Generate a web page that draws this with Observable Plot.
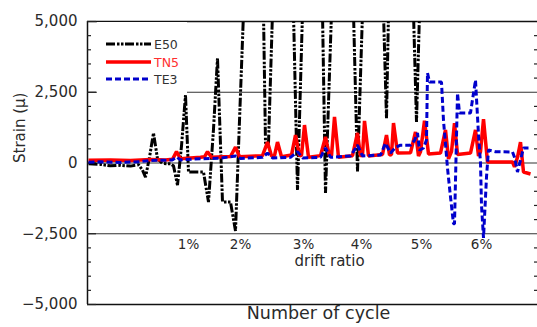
<!DOCTYPE html>
<html>
<head>
<meta charset="utf-8">
<script src="https://cdn.jsdelivr.net/npm/d3@7"></script>
<script src="https://cdn.jsdelivr.net/npm/@observablehq/plot@0.6"></script>
<style>
  html, body { margin: 0; padding: 0; background: #fff; }
  #wrap { position: relative; width: 537px; height: 327px; font-family: "DejaVu Sans", sans-serif; }
  #legend { position: absolute; left: 97px; top: 22px; width: 90px; height: 71px; background: #fff; }
  #legend .row { position: absolute; left: 9px; height: 14px; display: flex; align-items: center; }
  #legend .lab { font-size: 12.5px; margin-left: 3px; color: #333; }
</style>
</head>
<body>
<div id="wrap"></div>
<script>
// ---- data (x = cycle index, y = strain in micro-strain) ----
const seriesNames = ["E50", "TN5", "TE3"];
const seriesColors = ["#000000", "#ff0000", "#0000cc"];
const seriesDash = ["9,2,2.5,1.5,2.5,1.5", null, "6,3"];
const seriesWidths = [3, 3.5, 3];

const e50X = [1, 13, 23, 33, 43, 51, 55, 58, 62, 66, 70, 75, 83, 86, 90, 94, 98, 101, 116, 121, 126, 130, 135, 143, 148, 152, 156, 166, 176, 178, 181, 185, 195, 206, 210, 215, 225, 235, 238, 244, 255, 266, 270, 275, 285, 296, 299, 301, 313, 326, 329, 332];
const e50Y = [-30, -50, -100, -80, -110, -60, -250, -500, 200, 1060, 150, -20, -30, -100, -780, 600, 2400, -320, -320, -1380, 1200, 3700, -1380, -1380, -2400, 1500, 5300, 9000, 5300, 700, 700, 5300, 9000, 5300, -950, 5300, 9000, 5300, -1060, 5300, 9000, 5300, -300, 5300, 9000, 5300, 1580, 5300, 9000, 5300, 1450, 5300];

const tn5X = [1, 23, 43, 63, 78, 85, 89, 93, 113, 117, 120, 124, 143, 148, 152, 175, 180, 184, 187, 190, 194, 204, 208, 212, 214, 217, 221, 233, 238, 242, 244, 247, 251, 265, 270, 273, 275, 277, 281, 295, 299, 302, 304, 306, 310, 323, 328, 331, 333, 337, 341, 353, 358, 361, 364, 367, 370, 383, 388, 391, 393, 396, 400, 425, 427, 430, 433, 436, 443];
const tn5Y = [100, 110, 90, 120, 110, 130, 400, 150, 200, 220, 400, 200, 230, 560, 220, 260, 740, 250, 260, 740, 220, 280, 990, 250, 270, 1340, 200, 260, 920, 240, 250, 1630, 200, 260, 1060, 250, 270, 1490, 250, 300, 990, 280, 300, 1410, 350, 360, 1100, 250, 400, 1490, 320, 350, 1170, 150, 400, 1410, 300, 350, 1170, 250, 400, 1550, 35, 35, -140, 200, 740, -320, -390];

const te3X = [1, 13, 33, 53, 63, 78, 85, 89, 93, 113, 133, 148, 153, 175, 180, 185, 203, 210, 215, 233, 238, 243, 263, 270, 275, 293, 298, 303, 308, 313, 323, 327, 330, 332, 336, 339, 340, 342, 343, 354, 356, 360, 363, 366, 367, 370, 372, 373, 383, 388, 391, 393, 394, 396, 399, 401, 408, 425, 427, 430, 433, 436, 441];
const te3Y = [30, 40, 20, 50, 90, 100, 110, 210, 110, 150, 170, 250, 160, 200, 350, 180, 200, 400, 180, 200, 530, 200, 250, 630, 250, 280, 700, 350, 550, 630, 630, 800, 1060, 450, 530, 810, 3180, 2860, 2860, 2860, 1500, -180, -1200, -2150, -2150, 2470, 1770, 1770, 1770, 2930, 1000, 0, -1500, -2650, -500, 460, 400, 390, 200, -320, 100, 530, 530];

const yMajor = [-5000, -2500, 0, 2500, 5000];
const yMinor = [-4500, -4000, -3500, -3000, -2000, -1500, -1000, -500, 500, 1000, 1500, 2000, 3000, 3500, 4000, 4500];
const gridValues = [-2500, 0, 2500];

const driftLabels = ["1%", "2%", "3%", "4%", "5%", "6%"];
const driftCycle = [101, 153, 216, 274, 334, 394];
const driftTitle = "drift ratio";
const driftTitleCycle = 242;
const driftRow = -2500;

// ---- build ----
const xsArr = [e50X, tn5X, te3X];
const ysArr = [e50Y, tn5Y, te3Y];
const rows = [];
seriesNames.forEach((name, i) => {
  xsArr[i].forEach((x, j) => rows.push({series: name, cycle: x, strain: ysArr[i][j]}));
});
const drift = driftLabels.map((t, i) => ({t, x: driftCycle[i]}));

const lineMarks = seriesNames.map((name, i) =>
  Plot.line(rows.filter(d => d.series === name), {
    x: "cycle", y: "strain",
    stroke: seriesColors[i], strokeWidth: seriesWidths[i],
    strokeDasharray: seriesDash[i], strokeLinejoin: "miter", strokeLinecap: "butt",
    clip: true
  })
);

const chart = Plot.plot({
  width: 537, height: 327,
  marginLeft: 87, marginRight: 0, marginTop: 21, marginBottom: 23,
  style: {fontFamily: "DejaVu Sans, sans-serif", background: "#fff", overflow: "visible"},
  x: {domain: [0, 450], axis: null},
  y: {domain: [-5000, 5000], axis: null},
  marks: [
    Plot.ruleY(gridValues, {stroke: "#333", strokeWidth: 1.2}),
    Plot.ruleY([5000], {stroke: "#111", strokeWidth: 1.5}),
    Plot.ruleY([-5000], {stroke: "#111", strokeWidth: 1.5}),
    Plot.ruleX([0], {stroke: "#111", strokeWidth: 1.5}),
    Plot.axisY({ticks: yMajor, tickSize: -9, text: null, label: null, stroke: "#222", strokeWidth: 1.2}),
    Plot.axisY({ticks: yMinor, tickSize: -4, text: null, label: null, stroke: "#222", strokeWidth: 1.2}),
    Plot.axisY({anchor: "right", ticks: yMinor, tickSize: -4, text: null, label: null, stroke: "#222", strokeWidth: 1.2}),
    Plot.axisY({ticks: yMajor, tickSize: 0, tickPadding: 10, fontSize: 15, fill: "#2a2a2a",
      tickFormat: d => d3.format(",")(d), label: null}),
    ...lineMarks,
    Plot.text(drift, {x: "x", y: () => driftRow, text: "t", dy: 11, fontSize: 13.5, fill: "#2a2a2a"}),
    Plot.text([driftTitle], {x: () => driftTitleCycle, y: () => driftRow, text: d => d, dy: 27, fontSize: 15, fill: "#2a2a2a"}),
    Plot.text(["Number of cycle"], {frameAnchor: "bottom", text: d => d, dy: 14, dx: 6, fontSize: 17.5, fill: "#2a2a2a"}),
    Plot.text(["Strain (\u03bc)"], {frameAnchor: "left", text: d => d, rotate: -90, dx: -67, fontSize: 15, fill: "#2a2a2a"})
  ]
});

const wrap = document.getElementById("wrap");
wrap.appendChild(chart);

// legend
const legend = document.createElement("div");
legend.id = "legend";
const legendTops = [15, 33, 50];
seriesNames.forEach((name, i) => {
  const row = document.createElement("div");
  row.className = "row";
  row.style.top = legendTops[i] + "px";
  const svgNS = "http://www.w3.org/2000/svg";
  const svg = document.createElementNS(svgNS, "svg");
  svg.setAttribute("width", 45); svg.setAttribute("height", 14);
  const ln = document.createElementNS(svgNS, "line");
  ln.setAttribute("x1", 0); ln.setAttribute("x2", 45);
  ln.setAttribute("y1", 7); ln.setAttribute("y2", 7);
  ln.setAttribute("stroke", seriesColors[i]);
  ln.setAttribute("stroke-width", seriesWidths[i]);
  if (seriesDash[i]) ln.setAttribute("stroke-dasharray", seriesDash[i]);
  svg.appendChild(ln);
  const lab = document.createElement("span");
  lab.className = "lab";
  lab.textContent = name;
  if (name === "TN5") lab.style.color = "#ff3030";
  row.appendChild(svg); row.appendChild(lab);
  legend.appendChild(row);
});
wrap.appendChild(legend);
</script>
</body>
</html>
